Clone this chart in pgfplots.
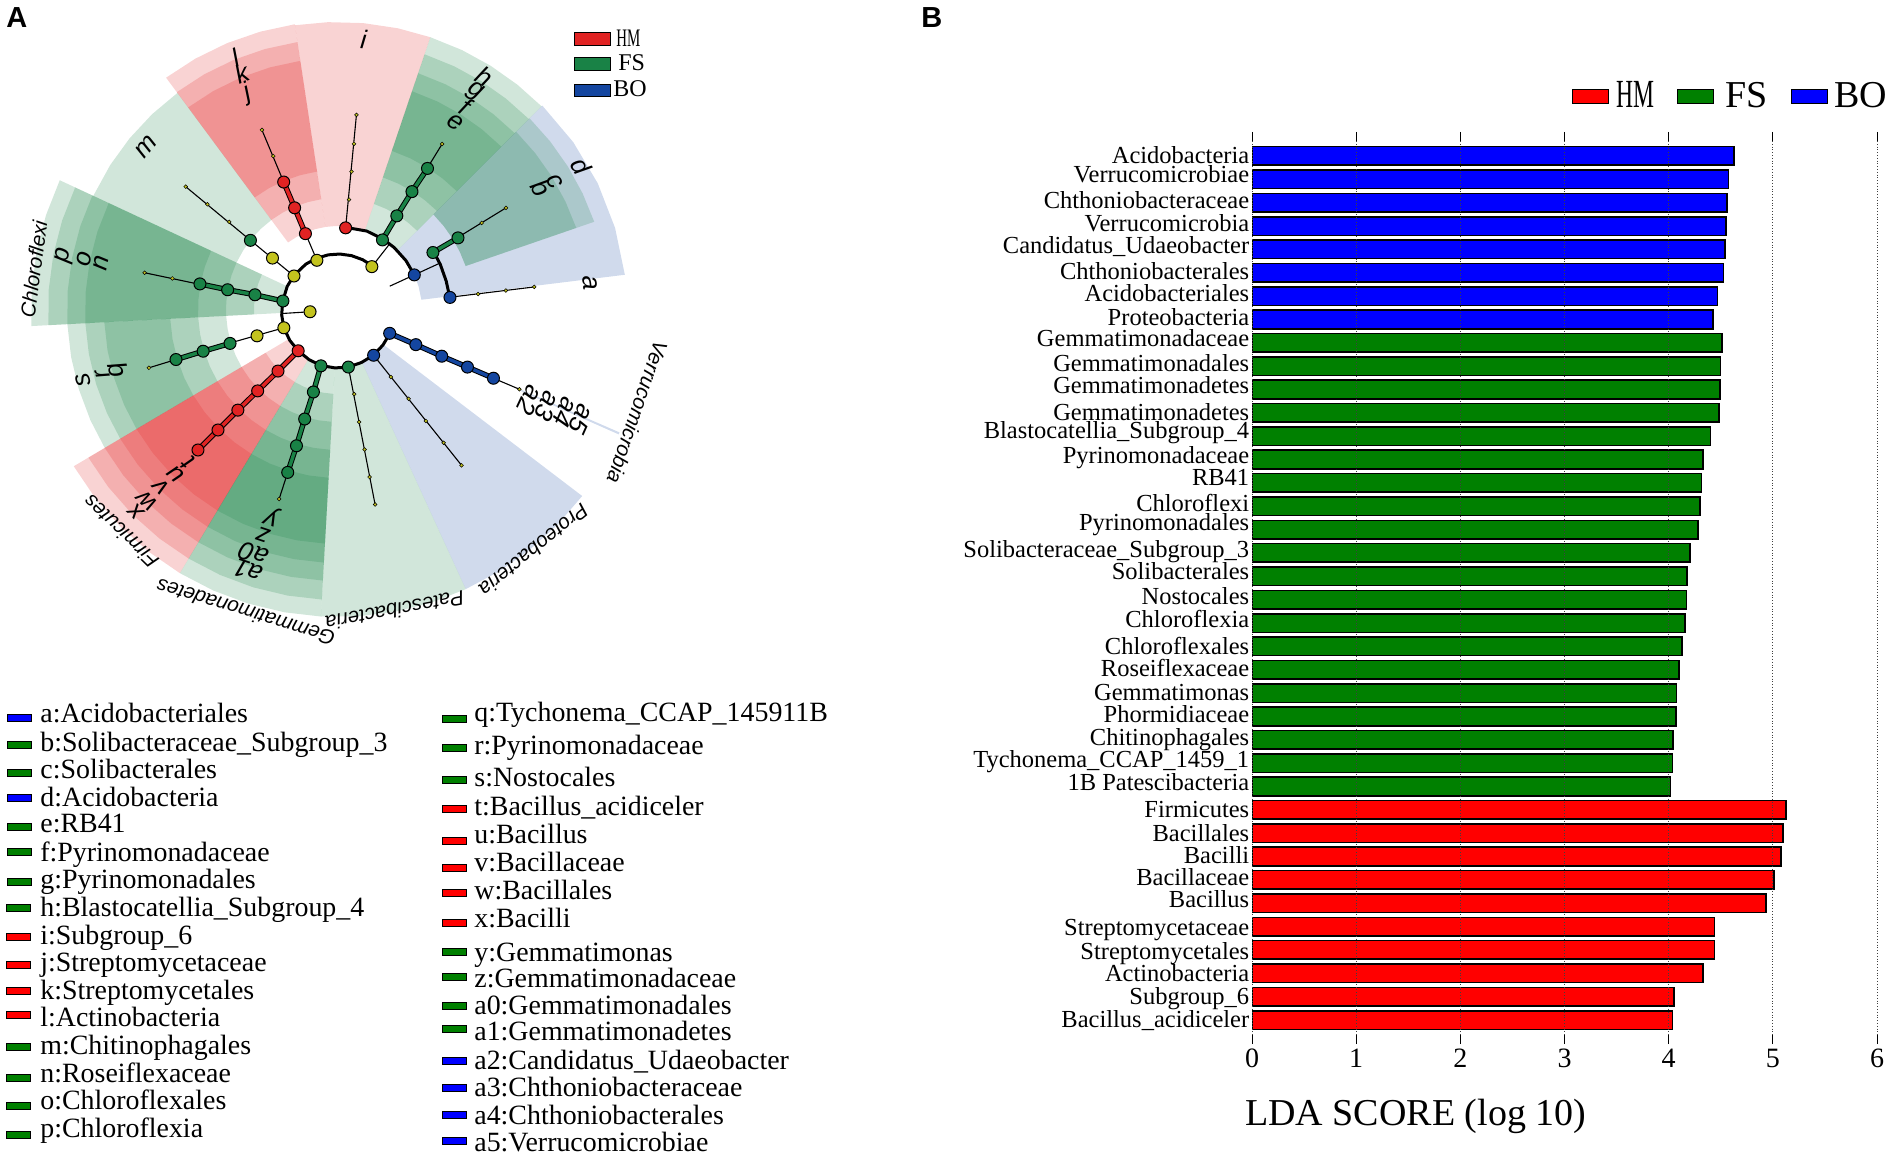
\documentclass[border=0pt]{standalone}
\usepackage{graphicx}
\usepackage{fontspec}
\setmainfont{Liberation Serif}
\newfontfamily\arialfont{Liberation Sans}
\usepackage{pgfplots}
\pgfplotsset{compat=1.18}
\usepgfplotslibrary{polar}

\definecolor{cladered}{RGB}{225,35,35}
\definecolor{cladegreen}{RGB}{25,130,70}
\definecolor{cladeblue}{RGB}{20,70,160}
\definecolor{nodeyellow}{RGB}{195,195,30}
\definecolor{barred}{RGB}{255,0,0}
\definecolor{bargreen}{RGB}{0,128,0}
\definecolor{barblue}{RGB}{0,0,255}

% one ring of a clade: 5 angles, inner radius, outer radius, colour
\newcommand\band[8]{\addplot[draw=none,fill=#8,fill opacity=0.2] coordinates {(#1,#6)(#2,#6)(#3,#6)(#4,#6)(#5,#6)(#5,#7)(#4,#7)(#3,#7)(#2,#7)(#1,#7)} --cycle;}
\newcommand\thinline[1]{\addplot[black,line width=0.55pt] coordinates {#1};}
\newcommand\fatline[2]{\addplot[black,line width=2.7pt] coordinates {#2};\addplot[#1,line width=1.7pt] coordinates {#2};}
\newcommand\bignodes[2]{\addplot[only marks,mark=*,mark size=3pt,mark options={fill=#1,draw=black,line width=0.5pt}] coordinates {#2};}
\newcommand\smallnodes[1]{\addplot[only marks,mark=*,mark size=0.95pt,mark options={fill=nodeyellow,draw=black,line width=0.25pt}] coordinates {#1};}
\newcommand\lab[3]{\node[font=\arialfont\itshape\fontsize{13}{13}\selectfont,rotate=#3-90,inner sep=0pt] at (axis cs:#3,#2) {#1};}
\newcommand\phy[3]{\node[font=\arialfont\itshape\fontsize{10.3}{10.3}\selectfont,rotate=#3-90,inner sep=0pt] at (axis cs:#3,#2) {#1};}
% key row: swatch x, swatch y, text x, text y, colour, text
\newcommand\keyrow[6]{\fill[#5,draw=black,line width=0.5pt] (#1,#2-3.5) rectangle (#1+24,#2+3.5);\node[anchor=base west,inner sep=0pt,font=\fontsize{13.95}{13.95}\selectfont] at (#3,#4+9) {#6};}

\begin{document}
\begin{tikzpicture}

% panel A: cladogram, polar data in image pixels around the centre of the ring
\begin{polaraxis}[
    at={(169pt,423.5pt)},anchor=center,
    scale only axis,width=320pt,height=320pt,
    xmin=0,xmax=360,ymin=0,ymax=320,
    hide axis,clip=false,
]
% Acidobacteria
\band{7}{16.5}{26}{35.5}{45}{84}{289}{cladeblue}
\band{19}{25.5}{32}{38.5}{45}{135}{271}{cladegreen}
\band{19}{25.5}{32}{38.5}{45}{135}{252}{cladegreen}
% e f g h
\band{45}{51.5}{58}{64.5}{71.3}{84}{288}{cladegreen}
\band{45}{51.5}{58}{64.5}{71.3}{112}{270}{cladegreen}
\band{45}{51.5}{58}{64.5}{71.3}{140}{250}{cladegreen}
\band{45}{51.5}{58}{64.5}{71.3}{168}{231}{cladegreen}
% i
\band{71.3}{78}{85}{92}{98.6}{84}{288}{cladered}
% j k l
\band{98.6}{105.6}{112.6}{119.6}{126.5}{84}{289}{cladered}
\band{98.6}{105.6}{112.6}{119.6}{126.5}{112}{271}{cladered}
\band{98.6}{105.6}{112.6}{119.6}{126.5}{140}{252}{cladered}
% m
\band{126.5}{133.5}{140.5}{147.5}{155}{112}{270}{cladegreen}
% Chloroflexi
\band{155}{162}{169}{176}{183}{57}{307}{cladegreen}
\band{155}{162}{169}{176}{183}{84}{290}{cladegreen}
\band{155}{162}{169}{176}{183}{112}{271}{cladegreen}
\band{155}{162}{169}{176}{183}{140}{253}{cladegreen}
% q r s
\band{183}{190}{197}{204}{210.6}{112}{271}{cladegreen}
\band{183}{190}{197}{204}{210.6}{140}{253}{cladegreen}
\band{183}{190}{197}{204}{210.6}{168}{234}{cladegreen}
% Firmicutes
\band{210.6}{217.6}{225}{232}{239}{57}{307}{cladered}
\band{210.6}{217.6}{225}{232}{239}{84}{290}{cladered}
\band{210.6}{217.6}{225}{232}{239}{112}{271}{cladered}
\band{210.6}{217.6}{225}{232}{239}{140}{253}{cladered}
\band{210.6}{217.6}{225}{232}{239}{168}{234}{cladered}
% Gemmatimonadetes
\band{239}{246}{253}{260}{266.8}{57}{307}{cladegreen}
\band{239}{246}{253}{260}{266.8}{84}{290}{cladegreen}
\band{239}{246}{253}{260}{266.8}{112}{271}{cladegreen}
\band{239}{246}{253}{260}{266.8}{140}{253}{cladegreen}
\band{239}{246}{253}{260}{266.8}{168}{234}{cladegreen}
% Patescibacteria, Proteobacteria, Verrucomicrobia
\band{266.8}{274}{281}{288}{294.6}{57}{307}{cladegreen}
\band{294.6}{301.6}{308.6}{315.6}{322.7}{57}{307}{cladeblue}
\band{336.1}{336.2}{336.3}{336.4}{336.5}{198}{307}{cladeblue}

% thin links
\thinline{(183.6,28)(183.6,57)}
\thinline{(52,56)(52,84)}
\thinline{(24.7,57)(24.7,84)(24.7,112)}
\thinline{(6.5,112)(6.7,197)}
\thinline{(31.2,140)(31.3,197)}
\thinline{(84.7,83)(84.6,196)}
\thinline{(57.8,167)(57.9,196)}
\thinline{(113,56)(113,84)}
\thinline{(113,139)(112.9,196)}
\thinline{(142.3,56)(141.5,112)}
\thinline{(141.5,112)(141,196)}
\thinline{(169.5,140)(169.1,197)}
\thinline{(198.2,57)(197,113)}
\thinline{(197,169)(197,198)}
\thinline{(252.8,170)(252.7,198)}
\thinline{(280.3,58)(280.8,198)}
\thinline{(308.2,57.6)(308.5,198.5)}
\thinline{(336.3,170)(336.4,198)}

% thick arcs of the tree
\addplot[black,line width=1.5pt] coordinates {(52,56)(64,56)(76,56)(88,56)(100,56)(113,56)(125,56)(142,56)(155,56)(171,56)(185,56.5)(198,57)(212,57)(226,57)(240,57.5)(253,58)(267,58)(280,58)(294,57.5)(308,57.5)(322,57)(336,57)};
\addplot[black,line width=1.5pt] coordinates {(24.7,84)(36,84)(48,84)(57.6,84)(70,84)(84.7,83)};
\addplot[black,line width=1.5pt] coordinates {(31.2,112)(24,112)(15,112)(6.4,112.5)};

% coloured lineages
\fatline{cladegreen}{(31.2,112)(31,140)}
\fatline{cladegreen}{(57.6,84)(58,111)(58,139.6)(57.7,167.5)}
\fatline{cladered}{(113.1,83)(113,111)(113,139)}
\fatline{cladegreen}{(170.7,56)(169.6,84.4)(169.6,112.2)(169.3,140.5)}
\fatline{cladegreen}{(197.2,113)(197,141)(197,169.4)}
\fatline{cladered}{(225.7,57)(225.5,85.6)(225.2,114)(225,141.6)(225,169.7)(225,198)}
\fatline{cladegreen}{(253,58.4)(253.3,85.6)(253,114)(253,142)(252.8,170)}
\fatline{cladeblue}{(335.7,56.7)(336,85.2)(336,113.6)(336.2,141.5)(336.3,169.8)}

% nodes, big ones are the significant clades
\bignodes{nodeyellow}{(183.6,28)(52,55)(113,54)(142.3,55.6)(141.6,83.6)(198.2,57)(197.7,85)}
\bignodes{cladeblue}{(24.7,84)(6.4,112.7)(308.2,57.6)(335.7,56.7)(336,85.2)(336,113.6)(336.2,141.5)(336.3,169.8)}
\bignodes{cladegreen}{(31.2,111)(31,140)(57.6,83)(58,111)(58,139.6)(57.7,167.5)(141.5,111.9)(170.7,55.8)(169.6,84.4)(169.6,112.2)(169.3,140.5)(197.2,113)(197,141)(197,169.4)(253,58.4)(253.3,85.6)(253,114)(253,142)(252.8,170)(280.3,58)}
\bignodes{cladered}{(84.7,82.5)(113.1,83)(113,111)(113,139)(225.7,57)(225.5,85.6)(225.2,114)(225,141.6)(225,169.7)(225,198)}
\smallnodes{(6.5,141)(6.6,169)(6.7,197.6)(31.2,168)(31.3,196.6)(84.3,111)(84.4,139)(84.5,167)(84.6,196)(57.9,196)(112.8,167)(112.9,195.5)(141,140)(141,168)(141,196)(169.2,168.6)(169.1,197)(197,197.7)(252.7,198)(280.9,85.7)(280.7,114)(280.8,142)(280.7,170)(280.8,198)(308.3,85.4)(308.5,113.5)(308.4,141.6)(308.5,169.7)(308.5,198.5)(336.4,198)}

% clade letters
\lab{i}{272}{84.6}
\lab{l}{272}{112}
\lab{k}{255.7}{112}
\lab{j}{235}{112.7}
\lab{m}{252}{139.7}
\lab{h}{276}{57.9}
\lab{g}{257.6}{58}
\lab{f}{240.6}{58}
\lab{e}{221}{58}
\lab{d}{283}{30.6}
\lab{c}{251.5}{30.6}
\lab{b}{237}{31}
\lab{a}{253.8}{6}
\lab{p}{279}{168.8}
\lab{o}{259}{168.6}
\lab{n}{241.6}{168.8}
\lab{s}{264.4}{195.3}
\lab{r}{244}{195.2}
\lab{q}{228}{195.3}
\lab{t}{214.5}{225.5}
\lab{u}{230.4}{225.3}
\lab{v}{249.6}{225}
\lab{w}{270}{225}
\lab{x}{286}{225}
\lab{y}{217}{252.2}
\lab{z}{237}{251.6}
\lab{a0}{258}{251}
\lab{a1}{276}{251}
\lab{a2}{212}{334.9}
\lab{a3}{230.7}{335.4}
\lab{a4}{249.7}{335.8}
\lab{a5}{266.7}{335.9}
\phy{Chloroflexi}{307}{172.3}
\phy{Firmicutes}{310}{225.6}
\phy{Gemmatimonadetes}{316}{253}
\phy{Patescibacteria}{306}{280.7}
\phy{Proteobacteria}{310}{309.2}
\phy{Verrucomicrobia}{316.6}{341.1}
\end{polaraxis}

% panel B: LDA scores
\begin{axis}[
    at={(626pt,61pt)},anchor=south west,
    scale only axis,width=312.5pt,height=447pt,
    xbar,bar width=9.3pt,bar shift=0pt,
    xmin=0,xmax=6,ymin=-0.642,ymax=37.642,y dir=reverse,
    axis on top,axis line style={draw=none},
    xtick={0,1,2,3,4,5,6},xtick pos=both,xticklabel pos=bottom,
    xtick align=outside,ytick align=inside,major tick length=4.5pt,
    xtick style={black,line width=0.4pt},ytick style={draw=none},
    xmajorgrids,grid style={densely dotted,black!75,line width=0.4pt},
    /pgf/number format/assume math mode=true,
    tick label style={font=\fontsize{14}{14}\selectfont},
    xticklabel style={yshift=1.4pt},
    ytick={-0.03,0.79,1.89,2.89,3.85,4.95,5.89,6.92,7.82,8.9,9.85,10.97,11.74,12.84,13.77,14.89,15.71,16.84,17.8,18.87,19.87,21,21.97,22.97,23.94,24.9,25.84,26.84,28,29,29.95,30.89,31.86,33.06,34.06,35.03,36,37},
    yticklabels={Acidobacteria,Verrucomicrobiae,Chthoniobacteraceae,Verrucomicrobia,Candidatus\_Udaeobacter,Chthoniobacterales,Acidobacteriales,Proteobacteria,Gemmatimonadaceae,Gemmatimonadales,Gemmatimonadetes,Gemmatimonadetes,Blastocatellia\_Subgroup\_4,Pyrinomonadaceae,RB41,Chloroflexi,Pyrinomonadales,Solibacteraceae\_Subgroup\_3,Solibacterales,Nostocales,Chloroflexia,Chloroflexales,Roseiflexaceae,Gemmatimonas,Phormidiaceae,Chitinophagales,Tychonema\_CCAP\_1459\_1,1B Patescibacteria,Firmicutes,Bacillales,Bacilli,Bacillaceae,Bacillus,Streptomycetaceae,Streptomycetales,Actinobacteria,Subgroup\_6,Bacillus\_acidiceler},
    yticklabel style={font=\fontsize{12.25}{12.25}\selectfont,inner sep=0pt,xshift=-1.2pt,yshift=-1.5pt},
    typeset ticklabels with strut,
    xlabel={LDA SCORE (log 10)},
    xlabel style={font=\fontsize{19}{19}\selectfont,at={(axis description cs:0.262,-0.091)},anchor=center},
    legend columns=3,
    legend style={at={(axis description cs:0.512,1.05)},anchor=west,draw=none,fill=none,inner sep=0pt,
        font=\fontsize{19}{19}\selectfont,nodes={inner sep=1.5pt},
        /tikz/every even column/.append style={column sep=10pt}},
    legend image code/.code={\fill[#1,draw=black,line width=0.5pt] (0pt,-3.5pt) rectangle (18pt,3.5pt);},
]
\addplot[fill=barred,draw=black,line width=0.8pt] coordinates {(5.124,28)(5.10,29)(5.08,30)(5.014,31)(4.935,32)(4.44,33)(4.44,34)(4.33,35)(4.053,36)(4.035,37)};
\addlegendentry{\hspace{2pt}\scalebox{0.62}[1.05]{HM}}
\addplot[fill=bargreen,draw=black,line width=0.8pt] coordinates {(4.51,8)(4.497,9)(4.49,10)(4.485,11)(4.40,12)(4.327,13)(4.314,14)(4.30,15)(4.284,16)(4.205,17)(4.175,18)(4.17,19)(4.156,20)(4.126,21)(4.10,22)(4.077,23)(4.07,24)(4.04,25)(4.035,26)(4.016,27)};
\addlegendentry{\hspace{4pt}FS}
\addplot[fill=barblue,draw=black,line width=0.8pt] coordinates {(4.63,0)(4.576,1)(4.558,2)(4.55,3)(4.54,4)(4.527,5)(4.47,6)(4.424,7)};
\addlegendentry{\hspace{2pt}BO}
\end{axis}

% page in image pixels, y running down
\begin{scope}[x=0.5pt,y=-0.5pt,yshift=578.5pt]
\path[use as bounding box] (0,0) rectangle (1892,1157);
\node[anchor=base west,inner sep=0pt,font=\arialfont\bfseries\fontsize{14.5}{14.5}\selectfont] at (6,28) {A};
\node[anchor=base west,inner sep=0pt,font=\arialfont\bfseries\fontsize{14.5}{14.5}\selectfont] at (921,28) {B};
% colour key of panel A
\fill[cladered,draw=black,line width=0.5pt] (574,33) rectangle (610,46);
\fill[cladegreen,draw=black,line width=0.5pt] (574,58) rectangle (610,71);
\fill[cladeblue,draw=black,line width=0.5pt] (574,85) rectangle (610,97);
\node[anchor=base west,inner sep=0pt,font=\fontsize{12}{12}\selectfont] at (616,47) {\scalebox{0.62}[1.05]{HM}};
\node[anchor=base west,inner sep=0pt,font=\fontsize{12}{12}\selectfont] at (618,71) {FS};
\node[anchor=base west,inner sep=0pt,font=\fontsize{12}{12}\selectfont] at (613,97) {BO};
% clade names, first column
\keyrow{7}{717.6}{40}{714}{barblue}{a:Acidobacteriales}
\keyrow{7}{745}{40}{742.6}{bargreen}{b:Solibacteraceae\_Subgroup\_3}
\keyrow{7}{773}{40}{770}{bargreen}{c:Solibacterales}
\keyrow{7}{798.5}{40}{797.6}{barblue}{d:Acidobacteria}
\keyrow{7}{827.5}{40}{824}{bargreen}{e:RB41}
\keyrow{7}{852}{40}{852.5}{bargreen}{f:Pyrinomonadaceae}
\keyrow{7}{882.5}{40}{880}{bargreen}{g:Pyrinomonadales}
\keyrow{6}{908}{40}{907.5}{bargreen}{h:Blastocatellia\_Subgroup\_4}
\keyrow{6}{937}{40}{936}{barred}{i:Subgroup\_6}
\keyrow{6}{965}{40}{963}{barred}{j:Streptomycetaceae}
\keyrow{6}{991}{40}{991}{barred}{k:Streptomycetales}
\keyrow{6}{1015}{40}{1018}{barred}{l:Actinobacteria}
\keyrow{6}{1047}{40}{1046}{bargreen}{m:Chitinophagales}
\keyrow{6}{1078}{40}{1074}{bargreen}{n:Roseiflexaceae}
\keyrow{6}{1105.6}{40}{1101}{bargreen}{o:Chloroflexales}
\keyrow{6}{1134.6}{40}{1129}{bargreen}{p:Chloroflexia}
% second column
\keyrow{442}{718.6}{474}{712.6}{bargreen}{q:Tychonema\_CCAP\_145911B}
\keyrow{442}{747.6}{474}{746}{bargreen}{r:Pyrinomonadaceae}
\keyrow{442}{780}{474}{778}{bargreen}{s:Nostocales}
\keyrow{442}{809}{474}{806.6}{barred}{t:Bacillus\_acidiceler}
\keyrow{442}{841}{474}{835}{barred}{u:Bacillus}
\keyrow{442}{868}{474}{863}{barred}{v:Bacillaceae}
\keyrow{442}{893}{474}{891}{barred}{w:Bacillales}
\keyrow{442}{923.4}{474}{919}{barred}{x:Bacilli}
\keyrow{442}{952}{474}{953}{bargreen}{y:Gemmatimonas}
\keyrow{442}{977.4}{474}{979}{bargreen}{z:Gemmatimonadaceae}
\keyrow{442}{1005.7}{474}{1005.7}{bargreen}{a0:Gemmatimonadales}
\keyrow{442}{1029}{474}{1032}{bargreen}{a1:Gemmatimonadetes}
\keyrow{442}{1060.6}{474}{1060.6}{barblue}{a2:Candidatus\_Udaeobacter}
\keyrow{442}{1088}{474}{1088}{barblue}{a3:Chthoniobacteraceae}
\keyrow{442}{1114.6}{474}{1115.6}{barblue}{a4:Chthoniobacterales}
\keyrow{442}{1141}{474}{1143}{barblue}{a5:Verrucomicrobiae}
\end{scope}
\end{tikzpicture}
\end{document}
